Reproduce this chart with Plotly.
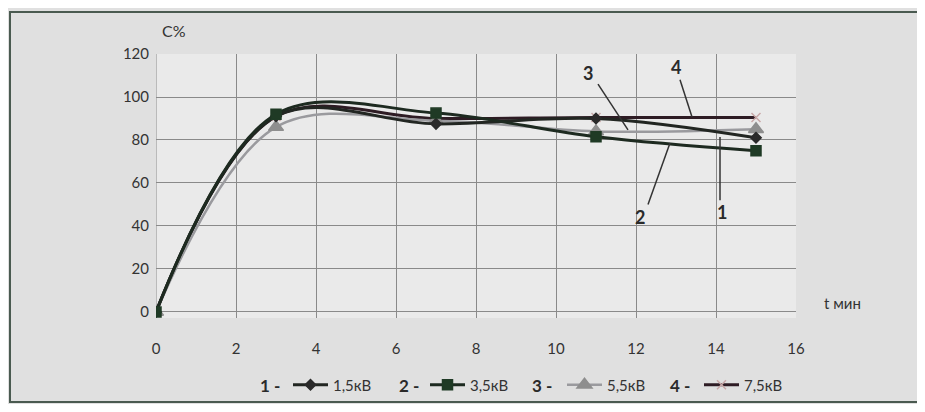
import plotly.graph_objects as go

# ---- data ----
t_min = [0, 3, 7, 11, 15]
c_15kv = [0, 91, 87.5, 90, 81]
c_35kv = [0, 92, 92.5, 81.5, 75]
c_55kv = [0, 86, 89, 84, 85]
c_75kv = [0, 91, 90, 90.5, 90.5]

series_names = ["1,5кВ", "3,5кВ", "5,5кВ", "7,5кВ"]
series_nums = ["1 -", "2 -", "3 -", "4 -"]
x_ticks = [0, 2, 4, 6, 8, 10, 12, 14, 16]
y_ticks = [0, 20, 40, 60, 80, 100, 120]

FONT = "Lato"
W, H = 909, 396
OFF = 8  # page body margin offset
L, T = 156 - OFF, 54 - OFF
R = W - (796 - OFF)
B = H - (318 - OFF)
PW, PH = W - L - R, H - T - B

fig = go.Figure()

styles = [
    dict(color="#222622", width=3, symbol="diamond", msize=8, mcolor="#2a2a2a", lcol="#2a2a2a"),
    dict(color="#1d2a20", width=3, symbol="square", msize=10, mcolor="#1f3a25", lcol="#1f3a25"),
    dict(color="#9a9a9e", width=2.5, symbol="triangle-up", msize=13, mcolor="#8e8e8e", lcol="#8e8e8e"),
    dict(color="#2e1c24", width=3, symbol="x-thin", msize=9, mcolor="#c8a8a8", lcol="#c8a8a8"),
]
data = [c_15kv, c_35kv, c_55kv, c_75kv]
draw_order = [3, 2, 0, 1]
for i in draw_order:
    s = styles[i]
    fig.add_trace(go.Scatter(
        x=t_min, y=data[i], name=series_names[i], legendrank=i + 1,
        mode="lines+markers",
        line=dict(color=s["color"], width=s["width"], shape="spline", smoothing=1.0),
        marker=dict(symbol=s["symbol"], size=s["msize"], color=s["mcolor"],
                    line=dict(color=s["lcol"], width=1.5)),
    ))

# axes
fig.update_xaxes(range=[0, 16], tickvals=x_ticks, ticktext=[str(v) for v in x_ticks],
                 showgrid=True, gridcolor="#8a8a8a", gridwidth=1, zeroline=False,
                 showline=False, ticks="", ticklabelstandoff=20,
                 tickfont=dict(family=FONT, size=15, color="#333"))
fig.update_yaxes(range=[-2.8, 120], tickvals=y_ticks, ticktext=[str(v) for v in y_ticks],
                 showgrid=True, gridcolor="#8a8a8a", gridwidth=1, zeroline=False,
                 showline=False, ticks="", ticklabelstandoff=6,
                 tickfont=dict(family=FONT, size=15, color="#333"))

# left edge gridline at x=0
fig.add_shape(type="line", xref="x", yref="paper", x0=0, x1=0, y0=0, y1=1,
              line=dict(color="#8a8a8a", width=1), layer="below")

def px_x(px):
    return (px - OFF - L) / PW

def px_y(py):
    return (H - B - (py - OFF)) / PH

# outer frame
fig.add_shape(type="rect", xref="paper", yref="paper",
              x0=px_x(10), x1=px_x(960), y0=px_y(402), y1=px_y(12),
              line=dict(color="#4a5a50", width=2), fillcolor="rgba(0,0,0,0)", layer="below")

# axis titles
fig.add_annotation(text="C%", xref="paper", yref="paper", x=px_x(160), y=px_y(30),
                   xanchor="left", yanchor="middle", showarrow=False,
                   font=dict(family=FONT, size=16, color="#333"))
fig.add_annotation(text="t мин", xref="paper", yref="paper", x=px_x(822), y=px_y(303),
                   xanchor="left", yanchor="middle", showarrow=False,
                   font=dict(family=FONT, size=15, color="#333"))

# curve labels with pointer lines
labels = [
    ("3", 10.8, 111, 11.05, 106, 11.8, 84.7),
    ("4", 13.0, 114, 13.1, 108, 13.4, 90.7),
    ("2", 12.1, 44, 12.3, 50, 12.85, 78.6),
    ("1", 14.15, 46.5, 14.1, 52, 14.1, 81.4),
]
for txt, tx, ty, x0, y0, x1, y1 in labels:
    fig.add_annotation(text="<b>%s</b>" % txt, x=tx, y=ty, xref="x", yref="y",
                       showarrow=False, font=dict(family=FONT, size=18, color="#2a2a2a"))
    fig.add_shape(type="line", x0=x0, y0=y0, x1=x1, y1=y1, xref="x", yref="y",
                  line=dict(color="#333", width=1.5))

# legend number prefixes
prefix_x = [258, 397, 530, 668]
for px, txt in zip(prefix_x, series_nums):
    fig.add_annotation(text="<b>%s</b>" % txt, xref="paper", yref="paper",
                       x=px_x(px), y=px_y(385), xanchor="left", yanchor="middle",
                       showarrow=False, font=dict(family=FONT, size=17, color="#2a2a2a"))

fig.update_layout(
    width=W, height=H,
    margin=dict(l=L, r=R, t=T, b=B, autoexpand=False),
    paper_bgcolor="#e0e0e0",
    plot_bgcolor="#eaeaea",
    showlegend=True,
    legend=dict(orientation="h", xref="container", yref="container",
                x=(288 - OFF) / W, y=1 - (385 - OFF) / H, xanchor="left", yanchor="middle",
                entrywidth=87, entrywidthmode="pixels", bgcolor="rgba(0,0,0,0)",
                font=dict(family=FONT, size=15, color="#333"), itemwidth=35,
                traceorder="normal"),
)

fig.write_html("out.html")
